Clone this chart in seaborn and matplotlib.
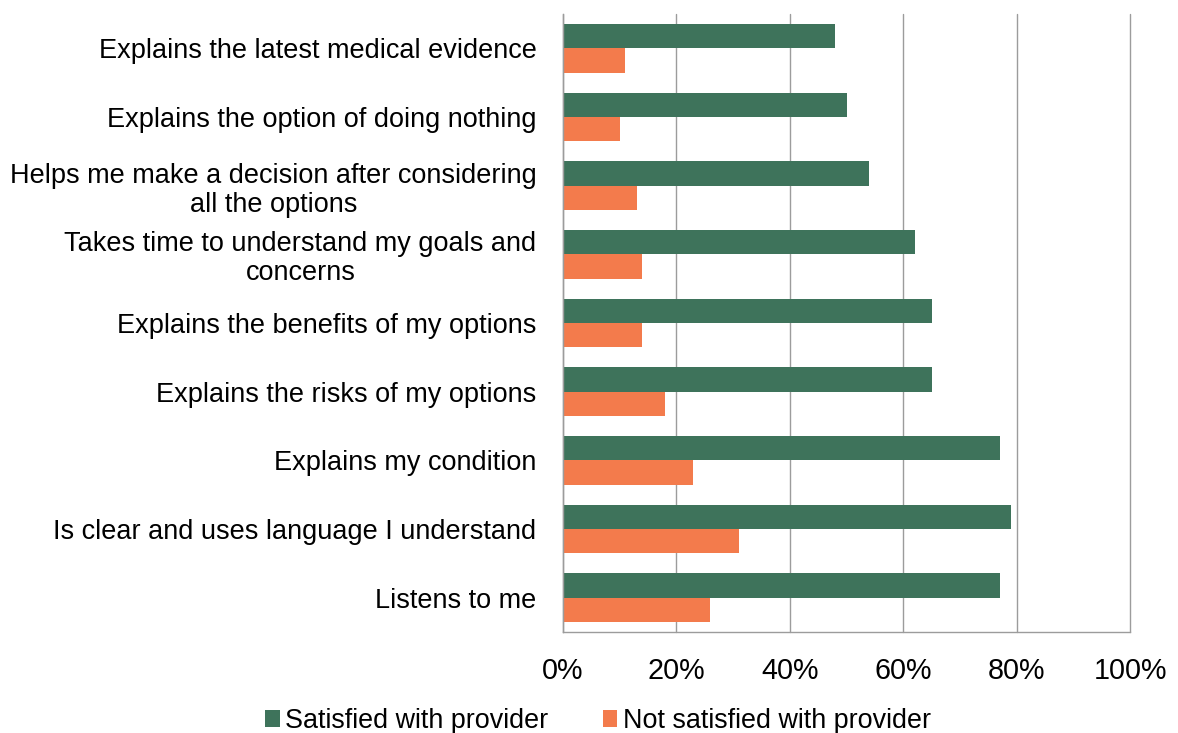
import numpy as np
import pandas as pd
import matplotlib
matplotlib.use("Agg")
import matplotlib.pyplot as plt
from matplotlib.patches import Patch
from matplotlib.ticker import PercentFormatter, FixedLocator
import seaborn as sns

# Survey items, top to bottom
items = [
    "Explains the latest medical evidence",
    "Explains the option of doing nothing",
    "Helps me make a decision after considering\nall the options",
    "Takes time to understand my goals and\nconcerns",
    "Explains the benefits of my options",
    "Explains the risks of my options",
    "Explains my condition",
    "Is clear and uses language I understand",
    "Listens to me",
]
# Share of respondents (%) rating the provider as doing each item
satisfied = [48, 50, 54, 62, 65, 65, 77, 79, 77]
not_satisfied = [11, 10, 13, 14, 14, 18, 23, 31, 26]
series_names = ["Satisfied with provider", "Not satisfied with provider"]
x_ticks = [0, 20, 40, 60, 80, 100]

GREEN = "#3E735B"
ORANGE = "#F37B4C"
GRID = "#9C9C9C"

df = pd.DataFrame({
    "item": items * 2,
    "value": satisfied + not_satisfied,
    "series": [series_names[0]] * len(items) + [series_names[1]] * len(items),
})

sns.set_style("white")
plt.rcParams["font.family"] = ["Liberation Sans", "DejaVu Sans"]
plt.rcParams["text.color"] = "black"

fig = plt.figure(figsize=(11.78, 7.33), dpi=100)
ax = fig.add_axes([563 / 1178, 1 - 632 / 733, (1130 - 563) / 1178, (632 - 14) / 733])

sns.barplot(
    data=df, x="value", y="item", hue="series", orient="h",
    palette=[GREEN, ORANGE], saturation=1, width=0.71, gap=0,
    linewidth=0, errorbar=None, legend=False, ax=ax,
)

ax.set_xlim(0, 100)
ax.set_ylim(len(items) - 0.5, -0.5)
ax.set_xlabel("")
ax.set_ylabel("")

# x axis: percent ticks with vertical gridlines
ax.set_xticks(x_ticks)
ax.xaxis.set_major_formatter(PercentFormatter(100, decimals=0))
ax.xaxis.grid(True, color=GRID, linewidth=1.0)
ax.yaxis.grid(False)
ax.set_axisbelow(True)
for gl in ax.get_xgridlines():
    gl.set_clip_on(False)
ax.tick_params(axis="x", which="major", direction="out", length=7,
               width=1, color=GRID, pad=11, labelsize=20.7, labelcolor="black")

# y axis: labels at category centers, tick marks between categories
ax.set_yticks(range(len(items)))
ax.set_yticklabels(items, multialignment="center", linespacing=1.15)
ax.yaxis.set_minor_locator(FixedLocator(np.arange(-0.5, len(items), 1.0)))
ax.tick_params(axis="y", which="major", length=0, pad=19, labelsize=19.5,
               labelcolor="black")
ax.tick_params(axis="y", which="minor", direction="out", length=5,
               width=1, color=GRID)

for side in ("top", "right"):
    ax.spines[side].set_visible(False)
for side in ("left", "bottom"):
    ax.spines[side].set_color(GRID)
    ax.spines[side].set_linewidth(1.0)

handles = [Patch(facecolor=GREEN, edgecolor="none"),
           Patch(facecolor=ORANGE, edgecolor="none")]
fig.legend(
    handles, series_names, loc="center", ncol=2,
    bbox_to_anchor=(598 / 1178, 1 - 721 / 733), frameon=False,
    fontsize=19.4, handlelength=0.55, handleheight=0.55,
    handletextpad=0.2, columnspacing=2.0, borderaxespad=0, borderpad=0,
    labelcolor="black",
)

fig.savefig("out.png", dpi=100)
